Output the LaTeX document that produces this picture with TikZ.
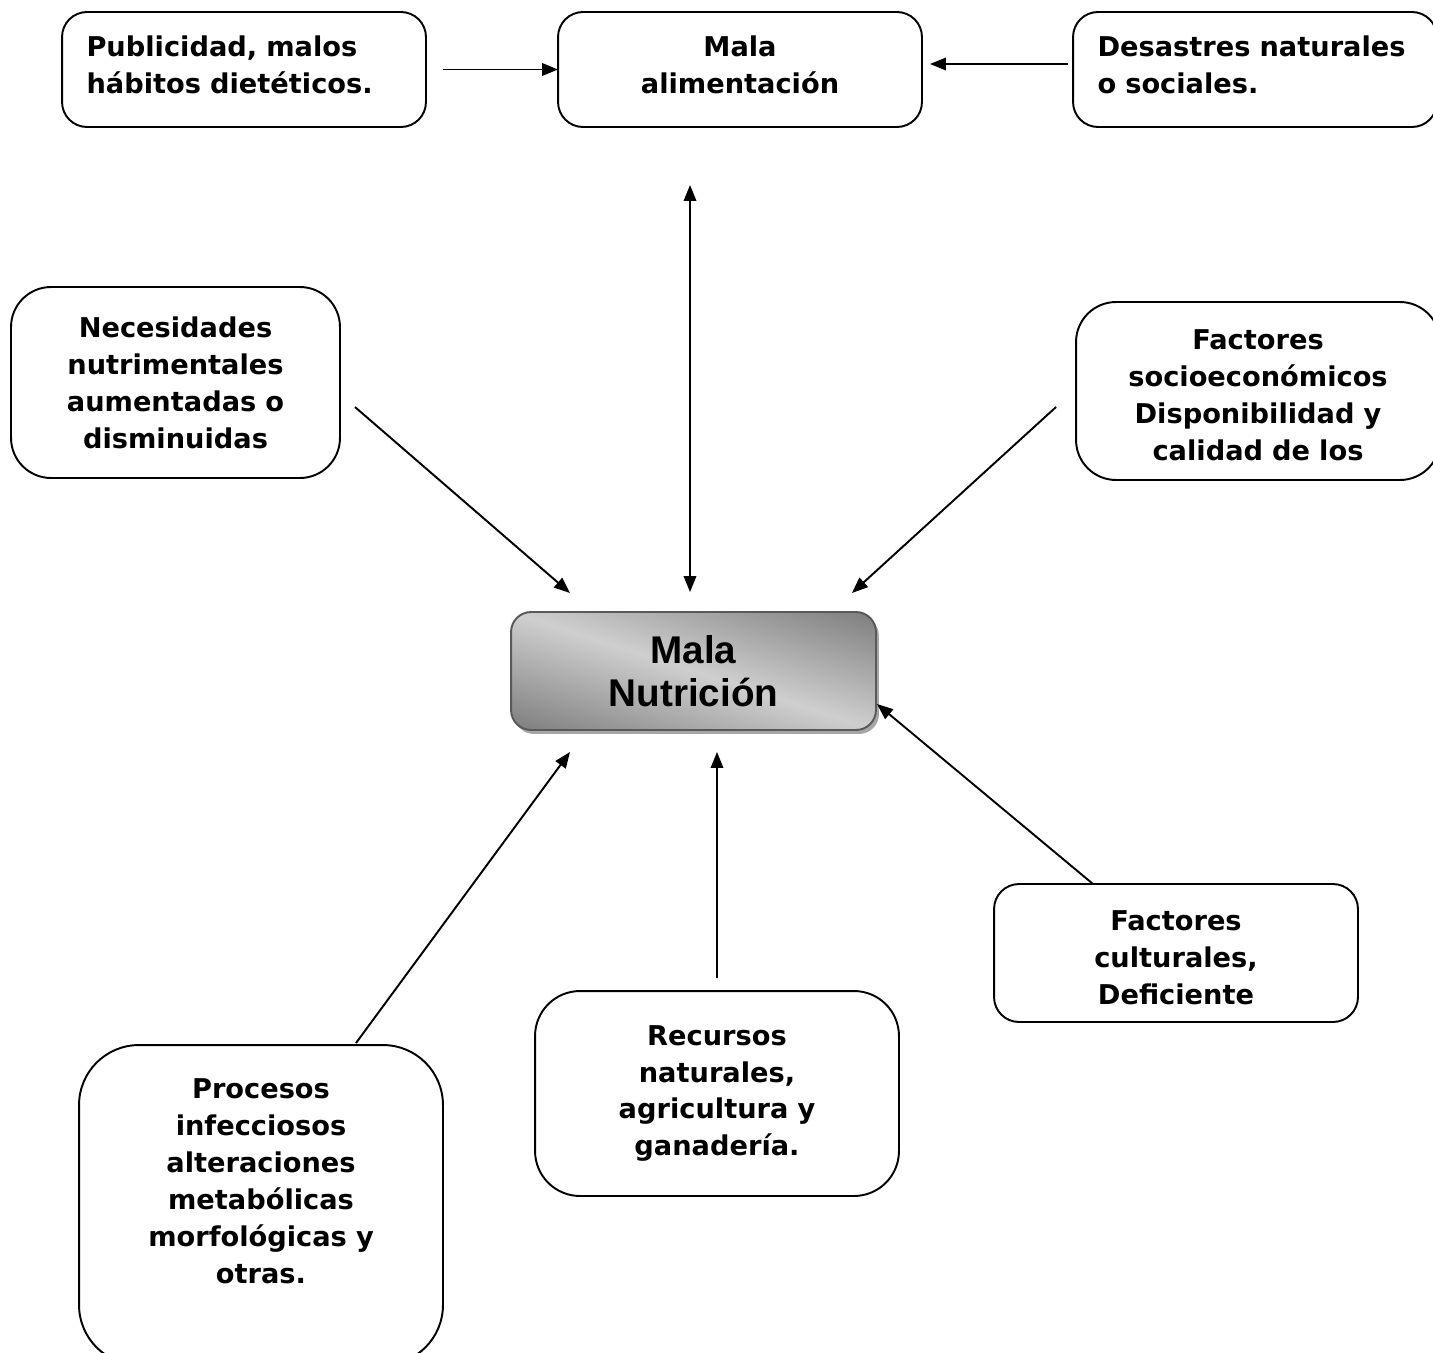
\documentclass[tikz,border=0pt]{standalone}
\usepackage{fontspec}
\setmainfont{DejaVu Sans}
\newfontfamily\fuentenucleo{Liberation Sans}
\usetikzlibrary{arrows.meta,shadows}
\pgfdeclareverticalshading{nucleograd}{100bp}{color(0bp)=(black!62); color(30bp)=(black!62); color(50bp)=(black!19); color(70bp)=(black!62); color(100bp)=(black!62)}
\tikzset{/MN/S/caja/.style={
	shape=rectangle, draw=black, line width=1.1pt, rounded corners=0.5cm,
	minimum width=7.28cm, inner sep=0, outer sep=0,
	font=\fontsize{15.5}{21}\selectfont\bfseries
}}
\tikzset{/MN/S/nucleo/.style={
	shape=rectangle, draw=black!65, line width=1.1pt, rounded corners=0.4cm,
	minimum width=7.3cm, minimum height=2.36cm, inner sep=0, outer sep=0,
	fill=black!20,
	path picture={
		\shade[shading=nucleograd, shading angle=-18]
			(path picture bounding box.center) +(-3.8cm,-3.8cm) rectangle +(3.8cm,3.8cm);
	},
	drop shadow={shadow xshift=0.06cm, shadow yshift=-0.08cm, fill=black!35, opacity=1},
	font=\fuentenucleo\fontsize{22}{24.4}\selectfont\bfseries
}}
\tikzset{/MN/S/flecha/.style={
	line width=1.1pt, -{Triangle[length=3.2mm, width=2.5mm]}
}}
\tikzset{/MN/S/doble/.style={
	line width=1.1pt, {Triangle[length=3.2mm, width=2.5mm]}-{Triangle[length=3.2mm, width=2.5mm]}
}}

\begin{document}
\begin{tikzpicture}[x=0.02cm, y=-0.02cm]
	\useasboundingbox (0,0) rectangle (1433,1352);
	\clip (0,0) rectangle (1433,1352);
	% fila de arriba
	\path (244,69.5) node[/MN/S/caja, minimum height=2.3cm, align=left, text width=6.3cm, text depth=26.6pt] (pub) {Publicidad, malos\\hábitos dietéticos.};
	\path (740,69.5) node[/MN/S/caja, minimum height=2.3cm, align=center, text width=6.6cm, text depth=26.6pt] (alim) {Mala\\alimentación};
	\path (1255,69.5) node[/MN/S/caja, minimum height=2.3cm, align=left, text width=6.3cm, text depth=26.6pt] (des) {Desastres naturales\\o sociales.};
	% fila del medio
	\path (175.5,382.5) node[/MN/S/caja, minimum width=6.58cm, minimum height=3.82cm, rounded corners=0.8cm, align=center, text width=6cm] (nec) {Necesidades\\nutrimentales\\aumentadas o\\disminuidas};
	\path (1258,391) node[/MN/S/caja, minimum height=3.56cm, rounded corners=0.8cm, align=center, text width=6.6cm, text depth=58.5pt] (soc) {Factores\\socioeconómicos\\Disponibilidad y\\calidad de los};
	\path (693.5,671) node[/MN/S/nucleo, align=center] (mn) {Mala\\Nutrición};
	% fila de abajo
	\path (1176,953) node[/MN/S/caja, minimum height=2.76cm, align=center, text width=6.6cm, text depth=36.4pt] (cul) {Factores\\culturales,\\Deficiente};
	\path (717,1093.5) node[/MN/S/caja, minimum height=4.1cm, rounded corners=0.9cm, align=center, text width=6.6cm] (rec) {Recursos\\naturales,\\agricultura y\\ganadería.};
	\path (261,1205) node[/MN/S/caja, minimum height=6.4cm, rounded corners=1.2cm, align=center, text width=6.6cm, text depth=132.2pt] (pro) {Procesos\\infecciosos\\alteraciones\\metabólicas\\morfológicas y\\otras.};
	% flechas
	\draw[/MN/S/flecha] ([xshift=0.34cm]pub.east) -- (alim.west);
	\draw[/MN/S/flecha] ([xshift=-0.1cm, yshift=0.11cm]des.west) -- ([xshift=0.16cm, yshift=0.11cm]alim.east);
	\draw[/MN/S/doble] ([xshift=-1cm, yshift=-1.16cm]alim.south) -- ([xshift=-0.07cm, yshift=0.4cm]mn.north);
	\draw[/MN/S/flecha] ([xshift=0.3cm, yshift=-0.49cm]nec.east) -- ([xshift=1.18cm, yshift=0.38cm]mn.north west);
	\draw[/MN/S/flecha] ([xshift=-0.4cm, yshift=-0.32cm]soc.west) -- ([xshift=-0.48cm, yshift=0.38cm]mn.north east);
	\draw[/MN/S/flecha] ([xshift=1.9cm, yshift=0.04cm]pro.north) -- ([xshift=1.18cm, yshift=-0.44cm]mn.south west);
	\draw[/MN/S/flecha] ([yshift=0.26cm]rec.north) -- ([xshift=0.47cm, yshift=-0.44cm]mn.south);
	\draw[/MN/S/flecha] ([xshift=-1.66cm]cul.north) -- ([xshift=0.02cm, yshift=-0.66cm]mn.east);
\end{tikzpicture}
\end{document}
